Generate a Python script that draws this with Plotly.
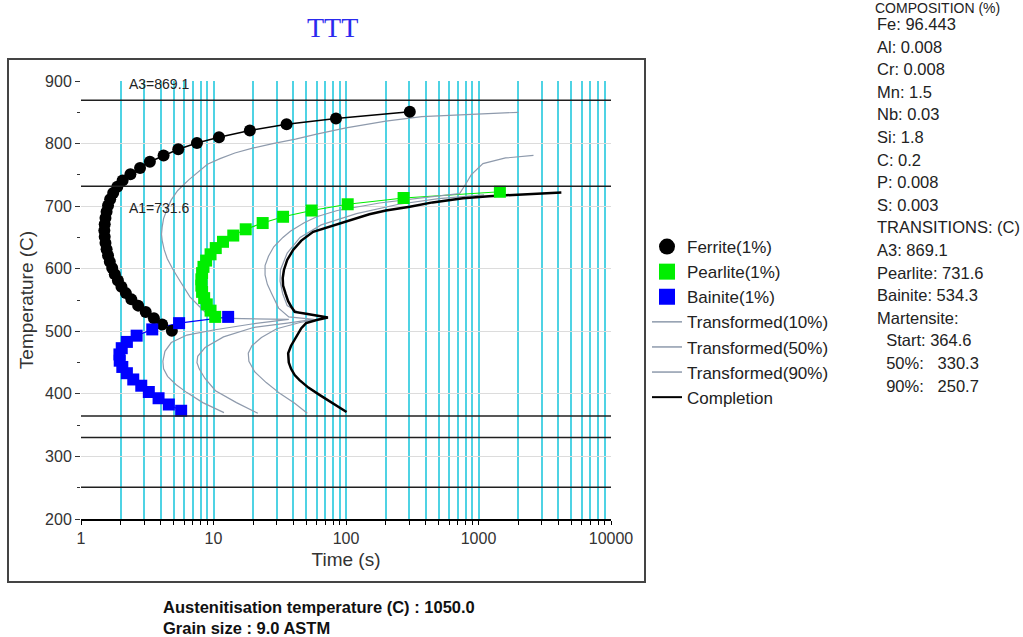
import plotly.graph_objects as go

# ---------------- data ----------------
ferrite_temp = [851, 840, 831, 821, 810, 801, 791, 781, 771, 761, 751, 741, 731, 721, 711, 701,
                691, 681, 671, 661, 651, 641, 631, 621, 611, 601, 591, 581, 571, 561, 551, 541,
                531, 521, 511, 501]
ferrite_time = [303, 84, 35.6, 18.8, 11.0, 7.5, 5.42, 4.2, 3.31, 2.79, 2.36, 2.06, 1.88, 1.75, 1.66, 1.60,
                1.56, 1.53, 1.51, 1.50, 1.51, 1.53, 1.56, 1.60, 1.65, 1.72, 1.80, 1.90, 2.02, 2.18, 2.40, 2.70,
                3.08, 3.55, 4.1, 4.85]

pearlite_temp = [723, 713, 703, 693, 683, 673, 663, 653, 643, 633, 623, 613, 603, 593, 583, 573,
                 563, 553, 543, 533, 523]
pearlite_time = [1450, 272, 103, 55, 33.5, 23.5, 17.5, 14.1, 11.8, 10.4, 9.5, 8.8, 8.4, 8.2, 8.1, 8.1,
                 8.2, 8.5, 8.9, 9.5, 10.3]

bainite_temp = [523, 513, 503, 493, 483, 473, 463, 453, 443, 433, 423, 413, 403, 393, 383, 373]
bainite_time = [12.9, 5.5, 3.45, 2.63, 2.22, 2.03, 1.95, 1.96, 2.05, 2.22, 2.48, 2.85, 3.25, 3.85, 4.6, 5.7]

t10_time = [2000, 1000, 373, 200, 100, 60, 41.6, 28, 20, 14.5, 11.2, 9, 7.74, 6.5, 5.37, 4.8, 4.48,
            4.2, 4.1, 4.05, 4.1, 4.25, 4.48, 4.97, 5.6, 6.64, 7.8, 8.9, 10.5,
            37, 20, 10, 6.3, 4.8, 4.3, 4.15, 4.2, 4.5, 5.2, 6.3, 8.3, 12]
t10_temp = [850, 847, 843, 836, 825, 815, 807, 800, 793, 785, 776, 767, 756, 742, 725, 710, 696,
            680, 667, 655, 645, 630, 616, 598, 580, 555, 540, 528, 521,
            519, 512, 502, 494, 482, 468, 452, 440, 428, 415, 402, 386, 370]

t50_time = [2600, 1600, 1080, 880, 810, 740, 720, 400, 179, 86, 60, 48, 38, 33.4, 28.5, 26, 24.5, 24.5,
            25.5, 27.5, 31, 37,
            57, 36, 20, 11.9, 8.64, 7.6, 7.5, 7.8, 8.6, 10.35, 14.9, 21.6]
t50_temp = [781, 777, 768, 750, 737, 724, 720, 714, 705, 693, 683, 673, 660, 650, 635, 620, 605, 590,
            575, 560, 537, 523,
            519, 513, 506, 491, 474, 460, 450, 440, 425, 405, 386, 369]

t90_time = [1100, 500, 250, 120, 65, 45, 36, 32, 31.8, 33.3, 36, 44, 60, 71,
            64, 45, 30, 23, 19.5, 18.3, 18.5, 20.5, 25, 32, 41, 51]
t90_temp = [718, 712, 703, 688, 670, 650, 625, 598, 580, 560, 541, 530, 525, 523,
            520, 514, 504, 490, 477, 465, 452, 435, 418, 400, 385, 369]

comp_time = [4220, 3000, 1930, 1200, 764, 450, 303, 200, 150, 113, 80, 56.5, 46, 39.9, 36, 34, 33.3,
             33.5, 35, 36.6, 39, 41, 50, 60, 73, 60, 50, 46, 42.3, 38.5, 36.6, 37, 38.5, 41, 44.6,
             52, 63.5, 80, 101]
comp_temp = [722, 720.5, 718, 716, 712.5, 706, 699, 693, 687, 679, 670, 659, 645, 630, 614, 598, 585,
             573, 560, 548, 538, 531, 528, 525, 522, 518, 513, 505, 491, 477, 465, 450, 440, 430, 422,
             410, 398, 385, 371]

transition_names = ["A3", "A1", "Ms", "M50", "M90"]
transition_temps = [869.1, 731.6, 364.6, 330.3, 250.7]

elements = ["Fe", "Al", "Cr", "Mn", "Nb", "Si", "C", "P", "S"]
element_pct = ["96.443", "0.008", "0.008", "1.5", "0.03", "1.8", "0.2", "0.008", "0.003"]

x_ticks = [1, 10, 100, 1000, 10000]
y_ticks = [200, 300, 400, 500, 600, 700, 800, 900]

# ---------------- styles ----------------
CYAN = "#4fd3e4"
GRAY_CURVE = "#8e9aac"
FONT = "Liberation Sans, Arial, sans-serif"

fig = go.Figure()

# curve lines
fig.add_trace(go.Scatter(x=ferrite_time, y=ferrite_temp, mode="lines",
                         line=dict(color="black", width=1.5), showlegend=False, hoverinfo="skip"))
fig.add_trace(go.Scatter(x=pearlite_time, y=pearlite_temp, mode="lines",
                         line=dict(color="#00ee00", width=1.2), showlegend=False, hoverinfo="skip"))
fig.add_trace(go.Scatter(x=bainite_time, y=bainite_temp, mode="lines",
                         line=dict(color="#0000ff", width=1.2), showlegend=False, hoverinfo="skip"))
# transformed curves
for name, xs, ys in [("Transformed(10%)", t10_time, t10_temp),
                     ("Transformed(50%)", t50_time, t50_temp),
                     ("Transformed(90%)", t90_time, t90_temp)]:
    fig.add_trace(go.Scatter(x=xs, y=ys, mode="lines", name=name, legendgroup=name,
                             line=dict(color=GRAY_CURVE, width=1.2), showlegend=False))
fig.add_trace(go.Scatter(x=comp_time, y=comp_temp, mode="lines", name="Completion",
                         line=dict(color="black", width=2.5), showlegend=False))

# markers
fig.add_trace(go.Scatter(x=ferrite_time, y=ferrite_temp, mode="markers", name="Ferrite(1%)",
                         marker=dict(symbol="circle", size=12, color="black"), showlegend=False))
fig.add_trace(go.Scatter(x=pearlite_time, y=pearlite_temp, mode="markers", name="Pearlite(1%)",
                         marker=dict(symbol="square", size=12, color="#00ee00"), showlegend=False))
fig.add_trace(go.Scatter(x=bainite_time, y=bainite_temp, mode="markers", name="Bainite(1%)",
                         marker=dict(symbol="square", size=12, color="#0000ff"), showlegend=False))

# legend entries
legend_items = [
    ("Ferrite(1%)", dict(mode="markers", marker=dict(symbol="circle", size=17, color="black"))),
    ("Pearlite(1%)", dict(mode="markers", marker=dict(symbol="square", size=16, color="#00ee00"))),
    ("Bainite(1%)", dict(mode="markers", marker=dict(symbol="square", size=16, color="#0000ff"))),
    ("Transformed(10%)", dict(mode="lines", line=dict(color=GRAY_CURVE, width=1.5))),
    ("Transformed(50%)", dict(mode="lines", line=dict(color=GRAY_CURVE, width=1.5))),
    ("Transformed(90%)", dict(mode="lines", line=dict(color=GRAY_CURVE, width=1.5))),
    ("Completion", dict(mode="lines", line=dict(color="black", width=2))),
]
for name, kw in legend_items:
    fig.add_trace(go.Scatter(x=[None], y=[None], name=name, legendgroup=name, showlegend=True, **kw))

# transition lines
for val in transition_temps:
    fig.add_hline(y=val, line=dict(color="#202020", width=1.5), layer="above")

# A3 / A1 labels
fig.add_annotation(x=0.35, y=895, xref="x", yref="y", text=f"A3={transition_temps[0]}",
                   showarrow=False, xanchor="left", yanchor="middle",
                   font=dict(family=FONT, size=14, color="#222"))
fig.add_annotation(x=0.35, y=697, xref="x", yref="y", text=f"A1={transition_temps[1]}",
                   showarrow=False, xanchor="left", yanchor="middle",
                   font=dict(family=FONT, size=14, color="#222"))

# Title
fig.add_annotation(x=0.475, y=1.123, xref="paper", yref="paper", text="TTT", showarrow=False,
                   xanchor="center", yanchor="middle",
                   font=dict(family="Liberation Serif, Times New Roman, serif", size=28, color="#2a2aee"))

# composition / transitions text block
comp_lines = ["COMPOSITION (%)"] + [f"{e}: {p}" for e, p in zip(elements, element_pct)]
comp_lines += ["TRANSITIONS: (C)", f"A3: {transition_temps[0]}", f"Pearlite: {transition_temps[1]}",
               "Bainite: 534.3", "Martensite:",
               f"\u00a0\u00a0Start: {transition_temps[2]}",
               f"\u00a0\u00a050%:\u00a0\u00a0\u00a0{transition_temps[3]}",
               f"\u00a0\u00a090%:\u00a0\u00a0\u00a0{transition_temps[4]}"]
PLOT_TOP, PLOT_BOT = 81, 519
PH = PLOT_BOT - PLOT_TOP
for i, line in enumerate(comp_lines):
    if i == 0:
        ypx, xpx, fs = 7.5, 873, 14
    else:
        ypx, xpx, fs = 24 + 22.6 * (i - 1), 875, 16.5
    fig.add_annotation(x=(xpx - 81) / 530, y=(PLOT_BOT - ypx) / PH, xref="paper", yref="paper",
                       text=line, showarrow=False, xanchor="left", yanchor="middle",
                       font=dict(family=FONT, size=fs, color="#222"))

# bottom info text
for i, line in enumerate(["Austenitisation temperature (C) : 1050.0", "Grain size : 9.0 ASTM"]):
    ypx = 607 + 21 * i
    fig.add_annotation(x=(161 - 81) / 530, y=(PLOT_BOT - ypx) / PH, xref="paper", yref="paper",
                       text=f"<b>{line}</b>", showarrow=False, xanchor="left", yanchor="middle",
                       font=dict(family=FONT, size=16.5, color="#111"))

# outer frame
fig.add_shape(type="rect", xref="paper", yref="paper",
              x0=(8 - 81) / 530, x1=(645 - 81) / 530, y0=(PLOT_BOT - 582) / PH, y1=(PLOT_BOT - 59) / PH,
              line=dict(color="#444", width=2), layer="below")

fig.update_layout(
    width=1023, height=637,
    margin=dict(l=81, r=1023 - 611, t=81, b=637 - 519),
    paper_bgcolor="white", plot_bgcolor="white",
    font=dict(family=FONT, size=16, color="#333"),
    showlegend=True,
    legend=dict(x=(647 - 81) / 530, y=(PLOT_BOT - 229) / PH, xanchor="left", yanchor="top",
                font=dict(family=FONT, size=17, color="#222"), tracegroupgap=0,
                bgcolor="rgba(0,0,0,0)", itemwidth=30),
    xaxis=dict(type="log", range=[0, 4], tickmode="array", tickvals=x_ticks,
               ticktext=[str(v) for v in x_ticks],
               showgrid=True, gridcolor=CYAN, gridwidth=1.5,
               minor=dict(dtick="D1", showgrid=True, gridcolor=CYAN, gridwidth=1.5,
                          ticks="outside", ticklen=4, tickcolor="black"),
               ticks="outside", ticklen=4, tickcolor="black",
               showline=True, linecolor="black", linewidth=2, zeroline=False,
               title=dict(text="Time (s)", font=dict(size=19, color="#333"), standoff=6),
               tickfont=dict(size=16, color="#333")),
    yaxis=dict(range=[200, 900], tickmode="array", tickvals=y_ticks,
               showgrid=True, gridcolor="#dcdcdc", gridwidth=1,
               minor=dict(tickvals=[250, 350, 450, 550, 650, 750, 850], ticks="outside", ticklen=3,
                          tickcolor="#333", showgrid=False),
               ticks="outside", ticklen=5, tickcolor="#333",
               showline=False, zeroline=False,
               title=dict(text="Temperature (C)", font=dict(size=19, color="#333"), standoff=6),
               tickfont=dict(size=16, color="#333")),
)

fig.write_html("out.html")
